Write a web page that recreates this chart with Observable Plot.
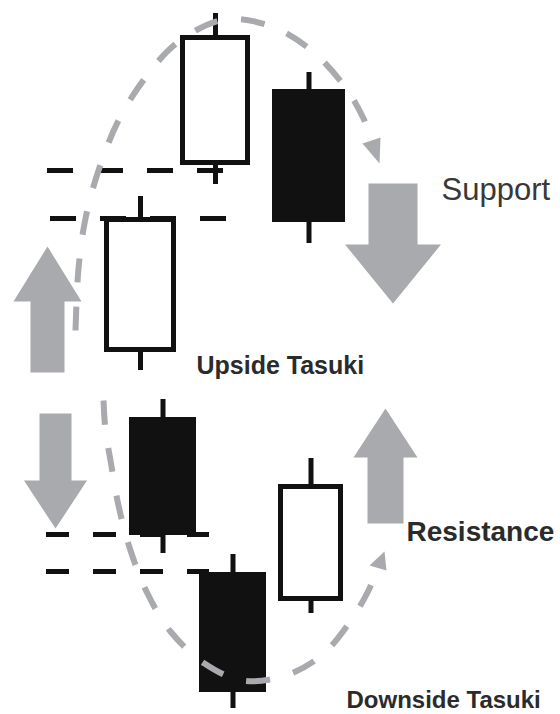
<!DOCTYPE html>
<html>
<head>
<meta charset="utf-8">
<script src="https://cdn.jsdelivr.net/npm/d3@7"></script>
<script src="https://cdn.jsdelivr.net/npm/@observablehq/plot@0.6"></script>
<style>
  html, body { margin: 0; padding: 0; background: #fff; }
  #chart svg { display: block; }
</style>
</head>
<body>
<div id="chart"></div>
<script>
// ---- Data (price units; x = session slot) ----
const candleName  = ["U1", "U2", "U3", "D1", "D2", "D3"];
const candleSlot  = [140, 215, 308.5, 162.5, 232.5, 310.5];
const candleOpen  = [362, 549, 625, 297, 142, 113];
const candleClose = [497, 679, 492, 179, 22, 230];
const candleHigh  = [518, 701, 642, 315, 160, 256];
const candleLow   = [344, 530, 471, 161, 6, 101];

// support / resistance levels (dashed)
const levelPrice = [544, 496, 180, 143];
const levelFrom  = [47, 50, 46, 46];
const levelTo    = [223, 227, 209, 209];

// labels
const labelText = ["Support", "Upside Tasuki", "Resistance", "Downside Tasuki"];
const labelSlot = [441, 196, 406, 346];
const labelPrice = [515, 341, 174, 7];

// trend arcs (slot, price)
const upperArcX = [75, 78, 85, 98, 118, 145, 177, 224, 271, 311, 345, 363, 371];
const upperArcY = [384, 446, 496, 544, 594, 637, 672, 695, 688, 664, 627, 596, 576];
const lowerArcX = [103, 105, 110, 118, 130, 147, 170, 204, 242, 285, 321, 349, 368, 376];
const lowerArcY = [314, 284, 254, 209, 164, 121, 83, 51, 34, 39, 59, 92, 124, 144];
const upperHeadX = [362, 380, 379];
const upperHeadY = [571, 577, 551];
const lowerHeadX = [384, 369, 386];
const lowerHeadY = [163, 149, 144];

// block arrows: centre slot, tail price, head-base price, tip price
const arrowCenter = [47, 55, 392.5, 385];
const arrowTail   = [342, 301, 531, 191];
const arrowBase   = [413, 234, 470, 257];
const arrowTip    = [468, 186, 411, 306];

// ---- layout / style constants ----
const BODY_W = [72, 70, 73, 67, 67, 65];
const SHAFT_HALF = [17, 16, 24.5, 18];
const HEAD_HALF = [34, 31.5, 48, 32];
const LABEL_SIZE = [31, 25, 28, 24];
const INK = "#111";
const GREY = "#a9aaad";
const FONT = "Liberation Sans, Arial, sans-serif";

const candles = candleName.map((n, i) => ({
  name: n, slot: candleSlot[i], w: BODY_W[i],
  open: candleOpen[i], close: candleClose[i], high: candleHigh[i], low: candleLow[i]
}));
const white = candles.filter(d => d.close > d.open);
const black = candles.filter(d => d.close < d.open);

const levels = levelPrice.map((p, i) => ({price: p, x1: levelFrom[i], x2: levelTo[i], grp: i < 2 ? "up" : "down"}));
const labels = labelText.map((t, i) => ({text: t, x: labelSlot[i], y: labelPrice[i], size: LABEL_SIZE[i], bold: i !== 0}));

const arcs = [
  ...upperArcX.map((x, i) => ({arc: "upper", x, y: upperArcY[i]})),
  ...lowerArcX.map((x, i) => ({arc: "lower", x, y: lowerArcY[i]}))
];
const heads = [
  ...upperHeadX.map((x, i) => ({h: "upper", x, y: upperHeadY[i]})),
  ...lowerHeadX.map((x, i) => ({h: "lower", x, y: lowerHeadY[i]}))
];
const arrowPolys = [];
arrowCenter.forEach((c, i) => {
  const sh = SHAFT_HALF[i], hh = HEAD_HALF[i];
  const pts = [
    [c - sh, arrowTail[i]], [c - sh, arrowBase[i]], [c - hh, arrowBase[i]],
    [c, arrowTip[i]], [c + hh, arrowBase[i]], [c + sh, arrowBase[i]], [c + sh, arrowTail[i]]
  ];
  pts.forEach(([x, y]) => arrowPolys.push({a: i, x, y}));
});

const labelMarks = labels.map(d => Plot.text([d], {
  x: "x", y: "y", text: "text", textAnchor: "start", lineAnchor: "bottom",
  fontSize: d.size, fontWeight: d.bold ? "bold" : "normal",
  fill: d.bold ? "#2b2b2b" : "#383838", fontFamily: FONT
}));

const chart = Plot.plot({
  width: 560,
  height: 714,
  margin: 0,
  x: {domain: [0, 560], axis: null},
  y: {domain: [0, 714], axis: null},
  style: {background: "#fff"},
  marks: [
    // block arrows
    Plot.line(arrowPolys, {x: "x", y: "y", z: "a", curve: "linear-closed", fill: GREY, stroke: "none"}),
    // dashed support / resistance levels
    Plot.ruleY(levels.filter(d => d.grp === "up"), {y: "price", x1: "x1", x2: "x2", stroke: INK, strokeWidth: 5, strokeDasharray: "26,24"}),
    Plot.ruleY(levels.filter(d => d.grp === "down"), {y: "price", x1: "x1", x2: "x2", stroke: INK, strokeWidth: 5, strokeDasharray: "23,24"}),
    // wicks
    Plot.ruleX(candles, {x: "slot", y1: "low", y2: "high", stroke: INK, strokeWidth: 5}),
    // bodies
    Plot.rect(white, {x1: d => d.slot - d.w / 2, x2: d => d.slot + d.w / 2, y1: "open", y2: "close", fill: "#fff", stroke: INK, strokeWidth: 5, inset: 2.5}),
    Plot.rect(black, {x1: d => d.slot - d.w / 2, x2: d => d.slot + d.w / 2, y1: "open", y2: "close", fill: INK}),
    // trend arcs
    Plot.line(arcs, {x: "x", y: "y", z: "arc", curve: "catmull-rom", stroke: GREY, strokeWidth: 6, strokeDasharray: "24,24", strokeLinecap: "butt"}),
    Plot.line(heads, {x: "x", y: "y", z: "h", curve: "linear-closed", fill: GREY, stroke: "none"}),
    // labels
    ...labelMarks
  ]
});
document.getElementById("chart").appendChild(chart);
</script>
</body>
</html>
